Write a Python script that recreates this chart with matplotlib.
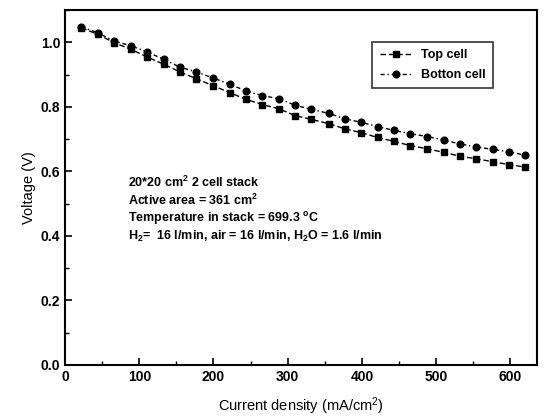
import matplotlib
matplotlib.use("Agg")
import matplotlib.pyplot as plt
from matplotlib.ticker import MultipleLocator, FormatStrFormatter

plt.rcParams['font.family'] = ['Liberation Sans', 'DejaVu Sans']
plt.rcParams['mathtext.fontset'] = 'custom'
plt.rcParams['mathtext.rm'] = 'Liberation Sans'
plt.rcParams['mathtext.it'] = 'Liberation Sans:italic'
plt.rcParams['mathtext.bf'] = 'Liberation Sans:bold'

current = [22, 44, 66, 89, 111, 133, 155, 177, 199, 222, 244, 266, 288, 310,
           332, 355, 377, 399, 421, 443, 465, 488, 510, 532, 554, 576, 598, 620]
top_cell = [1.045, 1.025, 0.999, 0.978, 0.954, 0.932, 0.908, 0.887, 0.866, 0.844,
            0.823, 0.807, 0.794, 0.773, 0.761, 0.748, 0.732, 0.720, 0.705, 0.693,
            0.680, 0.670, 0.659, 0.647, 0.639, 0.630, 0.621, 0.613]
bottom_cell = [1.048, 1.030, 1.004, 0.989, 0.970, 0.947, 0.923, 0.908, 0.890, 0.870,
               0.849, 0.835, 0.825, 0.805, 0.792, 0.780, 0.763, 0.752, 0.739, 0.727,
               0.717, 0.708, 0.697, 0.685, 0.676, 0.668, 0.661, 0.650]
labels = ["Top cell", "Botton cell"]
notes = ["20*20 cm$^{\\mathbf{2}}$ 2 cell stack",
         "Active area = 361 cm$^{\\mathbf{2}}$",
         "Temperature in stack = 699.3 $^{\\mathbf{o}}$C",
         "H$_{\\mathbf{2}}$=  16 l/min, air = 16 l/min, H$_{\\mathbf{2}}$O = 1.6 l/min"]

fig = plt.figure(figsize=(5.44, 4.19), dpi=100)
ax = fig.add_axes([0.1195, 0.129, 0.868, 0.847])

ax.plot(current, top_cell, linestyle=(0, (4, 2)), color='black', lw=1.0,
        marker='s', markersize=4.8, label=labels[0])
ax.plot(current, bottom_cell, linestyle=(0, (3, 2, 1, 2)), color='black', lw=1.0,
        marker='o', markersize=4.8, label=labels[1])

ax.set_xlim(0, 636)
ax.set_ylim(0, 1.1)
ax.xaxis.set_major_locator(MultipleLocator(100))
ax.xaxis.set_minor_locator(MultipleLocator(50))
ax.yaxis.set_major_locator(MultipleLocator(0.2))
ax.yaxis.set_minor_locator(MultipleLocator(0.1))
ax.yaxis.set_major_formatter(FormatStrFormatter('%.1f'))
ax.tick_params(which='both', direction='in', top=False, right=False)
ax.tick_params(which='major', length=5, width=1.2, labelsize=10)
ax.tick_params(which='minor', length=3, width=1.0)
for lab in ax.get_xticklabels() + ax.get_yticklabels():
    lab.set_fontweight('bold')
for s in ax.spines.values():
    s.set_linewidth(1.5)

ax.set_xlabel("Current density (mA/cm$^2$)", fontsize=10.5, labelpad=8)
ax.set_ylabel("Voltage (V)", fontsize=10.5, labelpad=3)

leg = ax.legend(loc='upper right', bbox_to_anchor=(0.907, 0.91), fontsize=9,
                frameon=True, fancybox=False, edgecolor='black',
                handlelength=2.5, borderpad=0.6, labelspacing=0.6,
                borderaxespad=0)
leg.get_frame().set_linewidth(1.2)
for t in leg.get_texts():
    t.set_fontweight('bold')

y0 = 0.513
for i, n in enumerate(notes):
    ax.text(0.1335, y0 - i * 0.0507, n, transform=ax.transAxes, fontsize=9,
            fontweight='bold', va='center', ha='left')

fig.savefig("out.png", dpi=100)
